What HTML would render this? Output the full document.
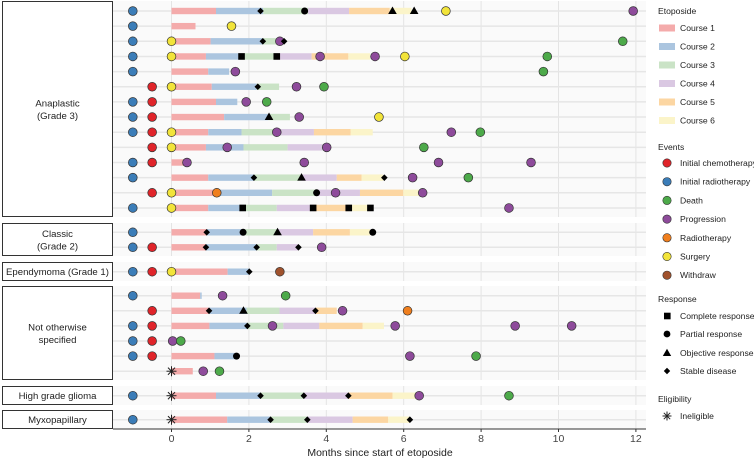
<!DOCTYPE html>
<html><head><meta charset="utf-8"><style>
body{margin:0;background:#fff;}
svg{display:block;font-family:"Liberation Sans",sans-serif;}
</style></head><body>
<svg id="chart" width="754" height="459" viewBox="0 0 754 459" xmlns="http://www.w3.org/2000/svg"></svg>
<script>
// ---- data ----
const xTicks = [0,2,4,6,8,10,12];
const panelLabels = [["Anaplastic","(Grade 3)"],["Classic","(Grade 2)"],["Ependymoma (Grade 1)"],["Not otherwise","specified"],["High grade glioma"],["Myxopapillary"]];
const courseEnds = [
[1.15,2.37,3.53,4.59,5.64,6.2],[0.62],[1.01,2.36,2.76],[0.89,1.81,2.72,3.62,4.57,5.13],[0.95,1.49],
[1.04,2.2,2.78],[1.15,1.7],[1.36,2.5,3.06],[0.95,1.81,2.72,3.68,4.63,5.2],[0.89,1.86,3.0,4.01],
[0.32],[0.95,2.13,3.36,4.27,4.91,5.47],[1.17,2.6,3.75,4.87,5.99,6.44],[0.95,1.84,2.72,3.66,4.58,5.14],
[0.91,1.86,2.74,3.66,4.61,5.13],[0.89,2.2,2.72,3.28],[1.45,2.01],[0.74,0.78],[0.97,1.94,2.79,3.73,4.27],
[0.98,1.96,2.89,3.82,4.94,5.49],[],[1.11,1.68],[0.55],[1.15,2.3,3.42,4.57,5.71,6.32],[1.44,2.56,3.51,4.68,5.6,6.16]];
const initRadioRows = [0,1,2,3,4,6,7,8,10,11,13,14,15,16,17,19,20,21,23,24];
const initChemoRows = [5,6,7,8,9,10,12,15,16,18,19,20,21];
const surgery = [[0,7.09],[1,1.55],[2,0],[3,0],[3,6.03],[5,0],[7,5.36],[8,0],[9,0],[12,0],[13,0],[16,0]];
const progression = [[0,11.93],[2,2.8],[3,3.84],[3,5.26],[4,1.65],[5,3.23],[6,1.93],[7,3.3],[8,2.72],[8,7.23],[9,1.44],[9,4.01],[10,0.40],[10,3.43],[10,6.9],[10,9.29],[11,6.23],[12,4.24],[12,6.49],[13,8.72],[15,3.88],[17,1.32],[18,4.42],[19,2.61],[19,5.78],[19,8.88],[19,10.34],[20,0.03],[21,6.16],[22,0.82],[23,6.4]];
const death = [[2,11.66],[3,9.71],[4,9.61],[5,3.94],[6,2.46],[8,7.98],[9,6.52],[11,7.67],[17,2.95],[20,0.24],[21,7.87],[22,1.24],[23,8.72]];
const radiotherapy = [[12,1.17],[18,6.1]];
const withdraw = [[16,2.8]];
const stableDisease = [[0,2.3],[2,2.36],[2,2.91],[5,2.23],[11,2.13],[11,5.5],[14,0.91],[15,0.89],[15,2.2],[15,3.28],[16,2.01],[18,0.97],[18,3.72],[19,1.96],[23,2.3],[23,3.42],[23,4.57],[24,2.56],[24,3.51],[24,6.16]];
const partialResponse = [[0,3.44],[12,3.75],[14,1.85],[14,5.2],[21,1.68]];
const objectiveResponse = [[0,5.71],[0,6.27],[7,2.52],[11,3.36],[14,2.74],[18,1.86]];
const completeResponse = [[3,1.81],[3,2.72],[13,1.84],[13,3.66],[13,4.58],[13,5.14]];
const ineligibleRows = [22,23,24];

// ---- layout ----
const svg = document.getElementById('chart');
const NS = 'http://www.w3.org/2000/svg';
const X0=113, X1=646;
const x = m => 171.5 + m*38.7;
const panels = [{y0:1,y1:217,r0:0,n:14,top:11,step:15.15},{y0:223,y1:256,r0:14,n:2,top:232.3,step:15},
 {y0:262,y1:281,r0:16,n:1,top:271.7,step:0},{y0:286,y1:380,r0:17,n:6,top:295.7,step:15.1},
 {y0:386,y1:405,r0:23,n:1,top:395.7,step:0},{y0:410,y1:429,r0:24,n:1,top:419.7,step:0}];
const rowY=[];
panels.forEach(p=>{for(let i=0;i<p.n;i++)rowY[p.r0+i]=p.top+i*p.step;});
const y = r => rowY[r];
const courseColors=['#f4abab','#abc5df','#cae3c6','#dac8e2','#fcd6a2','#fbf4c9'];
const evColors={chemo:'#e0242a',radio:'#3b7db8',death:'#4daa4a',prog:'#8e4b9b',rt:'#f07f1e',surg:'#f2e43a',withdraw:'#a0522d'};
function el(tag,attrs,parent){const e=document.createElementNS(NS,tag);for(const k in attrs)e.setAttribute(k,attrs[k]);(parent||svg).appendChild(e);return e;}

// panels
panels.forEach((p,i)=>{
  const bg=el('rect',{x:X0,y:p.y0,width:X1-X0,height:p.y1-p.y0,fill:'#fafafa'});
  
  
  xTicks.forEach(t=>{const g=el('line',{x1:x(t),x2:x(t),y1:p.y0,y2:p.y1,stroke:'#e4e4e4','stroke-width':1});
    
    });
  for(let k=0;k<p.n;k++){const yy=y(p.r0+k);
    const l=el('line',{x1:X0,x2:X1,y1:yy,y2:yy,stroke:'#e6e6e6','stroke-width':1.5});
    
    }
  const box=el('rect',{x:2.5,y:p.y0+0.5,width:110,height:p.y1-p.y0-1,fill:'#fff',stroke:'#333','stroke-width':1});
  
  
  const lines=panelLabels[i], cy=(p.y0+p.y1)/2;
  lines.forEach((s,j)=>{const t=el('text',{x:57.5,y:cy+3.5+(j-(lines.length-1)/2)*12.5,'text-anchor':'middle','font-size':9.6,fill:'#222'});
    t.textContent=s;
    
    });
});
// bars
courseEnds.forEach((ends,r)=>{let s=0;ends.forEach((e,c)=>{
  const b=el('rect',{x:x(s),y:y(r)-3.2,width:Math.max(0,x(e)-x(s)),height:6.4,fill:courseColors[c]});
  
  
  s=e;});});
function circ(r,m,type){const c=el('circle',{cx:x(m),cy:y(r),r:4.4,fill:evColors[type],stroke:'#333','stroke-width':0.7});
  
  }
initRadioRows.forEach(r=>circ(r,-1,'radio'));
initChemoRows.forEach(r=>circ(r,-0.5,'chemo'));
surgery.forEach(d=>circ(d[0],d[1],'surg'));
radiotherapy.forEach(d=>circ(d[0],d[1],'rt'));
withdraw.forEach(d=>circ(d[0],d[1],'withdraw'));
progression.forEach(d=>circ(d[0],d[1],'prog'));
death.forEach(d=>circ(d[0],d[1],'death'));
// responses
stableDisease.forEach(d=>{const cx=x(d[1]),cy=y(d[0]);
  const p=el('polygon',{points:`${cx},${cy-3.3} ${cx+3.3},${cy} ${cx},${cy+3.3} ${cx-3.3},${cy}`,fill:'#000'});
  
  });
partialResponse.forEach(d=>{const c=el('circle',{cx:x(d[1]),cy:y(d[0]),r:3.5,fill:'#000'});
  
  });
objectiveResponse.forEach(d=>{const cx=x(d[1]),cy=y(d[0]);
  const p=el('polygon',{points:`${cx},${cy-4.5} ${cx+4.3},${cy+3} ${cx-4.3},${cy+3}`,fill:'#000'});
  
  });
completeResponse.forEach(d=>{const s=el('rect',{x:x(d[1])-3.3,y:y(d[0])-3.3,width:6.6,height:6.6,fill:'#000'});
  
  });
function star(cx,cy,r,name){const g=el('g',{stroke:'#222','stroke-width':1});
  
  
  [0,45,90,135].forEach(a=>{const rad=a*Math.PI/180;el('line',{x1:cx-r*Math.cos(rad),y1:cy-r*Math.sin(rad),x2:cx+r*Math.cos(rad),y2:cy+r*Math.sin(rad)},g);});}
ineligibleRows.forEach(r=>star(x(0),y(r),5,'ineligible-marker'));
// axis
const ax=el('line',{x1:X0,x2:X1,y1:429,y2:429,stroke:'#333','stroke-width':1});


xTicks.forEach(t=>{const tk=el('line',{x1:x(t),x2:x(t),y1:429,y2:432,stroke:'#333'});
  
  
  const lb=el('text',{x:x(t),y:442,'text-anchor':'middle','font-size':10.5,fill:'#444'});
  lb.textContent=t;
  
  });
const at=el('text',{x:380,y:456,'text-anchor':'middle','font-size':10.5,fill:'#222'});
at.textContent='Months since start of etoposide';


// legend
function ltext(tx,ty,s,size,name){const t=el('text',{x:tx,y:ty,'font-size':size,fill:'#222'});t.textContent=s;
  
  }
ltext(658,14,'Etoposide',8.6,'legend-title-etoposide');
['Course 1','Course 2','Course 3','Course 4','Course 5','Course 6'].forEach((s,i)=>{const yy=28+i*18.5;
  const sw=el('rect',{x:659,y:yy-3.5,width:16,height:7,fill:courseColors[i]});
  
  
  ltext(680,yy+3,s,8.6,'legend-entry-course');});
ltext(658,150,'Events',8.6,'legend-title-events');
[['chemo','Initial chemotherapy'],['radio','Initial radiotherapy'],['death','Death'],['prog','Progression'],['rt','Radiotherapy'],['surg','Surgery'],['withdraw','Withdraw']].forEach((d,i)=>{const yy=163+i*18.7;
  const c=el('circle',{cx:667,cy:yy,r:4.2,fill:evColors[d[0]],stroke:'#333','stroke-width':0.6});
  
  
  ltext(680,yy+3,d[1],8.6,'legend-entry-event');});
ltext(658,302,'Response',8.6,'legend-title-response');
const ry=[316,334,353,371];
const sq=el('rect',{x:664,y:ry[0]-3.3,width:6.6,height:6.6,fill:'#000'});
const pc=el('circle',{cx:667,cy:ry[1],r:3.4,fill:'#000'});
const tr=el('polygon',{points:`667,${ry[2]-4.3} 671.2,${ry[2]+3} 662.8,${ry[2]+3}`,fill:'#000'});
const dm=el('polygon',{points:`667,${ry[3]-3.2} 670.2,${ry[3]} 667,${ry[3]+3.2} 663.8,${ry[3]}`,fill:'#000'});
['Complete response','Partial response','Objective response','Stable disease'].forEach((s,i)=>ltext(680,ry[i]+3,s,8.6,'legend-entry-response'));
ltext(658,402,'Eligibility',8.6,'legend-title-eligibility');
star(667,416,4.5,'legend-key-ineligible');
ltext(680,419,'Ineligible',8.6,'legend-entry-ineligible');
</script>
</body></html>
